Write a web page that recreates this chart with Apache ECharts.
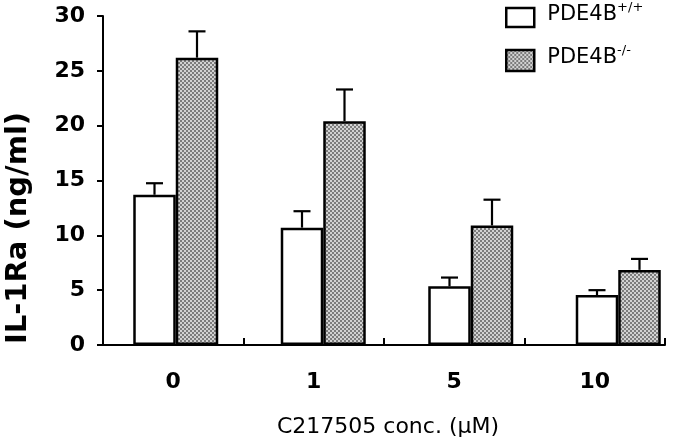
<!DOCTYPE html>
<html>
<head>
<meta charset="utf-8">
<script src="https://cdn.jsdelivr.net/npm/echarts@6/dist/echarts.min.js"></script>
<style>html,body{margin:0;padding:0;background:#fff}#c{width:700px;height:443px}</style>
</head>
<body>
<div id="c"></div>
<script>
var categories = ['0', '1', '5', '10'];
var seriesNames = ['PDE4B+/+', 'PDE4B-/-'];
var wtMean = [13.7, 10.7, 5.35, 4.55];
var wtErr = [1.05, 1.5, 0.8, 0.45];
var koMean = [26.2, 20.4, 10.9, 6.85];
var koErr = [2.4, 2.9, 2.35, 1.0];
var yTicks = [0, 5, 10, 15, 20, 25, 30];

var pc = document.createElement('canvas');
pc.width = 4; pc.height = 4;
var g = pc.getContext('2d');
g.fillStyle = '#d2d2d2'; g.fillRect(0, 0, 4, 4);
g.fillStyle = '#7c7c7c'; g.fillRect(0, 0, 2, 2); g.fillRect(2, 2, 2, 2);
var pattern = { image: pc, repeat: 'repeat' };

var FONT = 'DejaVu Sans';
var chart = echarts.init(document.getElementById('c'), null, { renderer: 'canvas' });

function errSeries(mean, err, offset) {
  return {
    type: 'custom', xAxisIndex: 1, yAxisIndex: 1, silent: true, z: 5,
    data: mean.map(function (m, i) { return [i, m, m + err[i]]; }),
    renderItem: function (params, api) {
      var b = api.coord([api.value(0), api.value(1)]);
      var t = api.coord([api.value(0), api.value(2)]);
      var x = b[0] + offset;
      return {
        type: 'group', children: [
          { type: 'line', shape: { x1: x, y1: b[1], x2: x, y2: t[1] }, style: { stroke: '#000', lineWidth: 2.2 } },
          { type: 'line', shape: { x1: x - 8.5, y1: t[1], x2: x + 8.5, y2: t[1] }, style: { stroke: '#000', lineWidth: 2.2 } }
        ]
      };
    }
  };
}

function legendFmt(name) {
  return '{a|PDE4B}{s|' + name.replace('PDE4B', '') + '}';
}
var legendText = {
  color: '#000',
  padding: [0, 0, 8, 8],
  rich: {
    a: { fontFamily: FONT, fontSize: 21, color: '#000', lineHeight: 24, verticalAlign: 'bottom' },
    s: { fontFamily: FONT, fontSize: 13, color: '#000', lineHeight: 14, verticalAlign: 'top' }
  }
};

chart.setOption({
  animation: false,
  backgroundColor: '#fff',
  legend: [
    { data: [seriesNames[0]], left: 505, top: 1.5, padding: 0, itemWidth: 28, itemHeight: 19, icon: 'rect',
      itemStyle: { borderColor: '#000', borderWidth: 2.5 }, formatter: legendFmt, textStyle: legendText },
    { data: [seriesNames[1]], left: 505, top: 44.5, padding: 0, itemWidth: 28, itemHeight: 21, icon: 'rect',
      itemStyle: { borderColor: '#000', borderWidth: 2.5 }, formatter: legendFmt, textStyle: legendText }
  ],
  grid: [
    { left: 103, right: 35, top: 16, bottom: 98 },
    { left: 102, right: 8, top: 16, bottom: 98 }
  ],
  xAxis: [
    {
      type: 'category', gridIndex: 0, data: categories, boundaryGap: true,
      axisLine: { lineStyle: { color: '#000', width: 2 } },
      axisTick: { show: true, interval: 0, inside: true, length: 7, lineStyle: { color: '#000', width: 2 } },
      axisLabel: { color: '#000', fontFamily: FONT, fontWeight: 'bold', fontSize: 22, margin: 26 },
      name: 'C217505 conc. (\u03bcM)', nameLocation: 'middle', nameGap: 71,
      nameTextStyle: { color: '#000', fontFamily: FONT, fontSize: 22, padding: [0, 0, 0, 8] },
      z: 10
    },
    { type: 'category', gridIndex: 1, data: categories, show: false }
  ],
  yAxis: [
    {
      type: 'value', gridIndex: 0, min: 0, max: 30, interval: 5,
      axisLine: { show: true, lineStyle: { color: '#000', width: 2 } },
      axisTick: { show: true, length: 6, lineStyle: { color: '#000', width: 2 } },
      axisLabel: { color: '#000', fontFamily: FONT, fontWeight: 'bold', fontSize: 22, margin: 18,
        formatter: function (v) { return yTicks.indexOf(v) >= 0 ? String(v) : ''; } },
      splitLine: { show: false }
    },
    { type: 'value', gridIndex: 1, min: 0, max: 30, interval: 5, show: false, splitLine: { show: false } }
  ],
  graphic: [
    { type: 'text', x: 18, y: 228, rotation: Math.PI / 2,
      style: { text: 'IL-1Ra (ng/ml)', fill: '#000', font: 'bold 29px "DejaVu Sans"', textAlign: 'center', textVerticalAlign: 'middle' } }
  ],
  series: [
    { name: seriesNames[0], type: 'bar', xAxisIndex: 1, yAxisIndex: 1, data: wtMean, barWidth: 42.5, barGap: '0%',
      itemStyle: { color: '#fff', borderColor: '#000', borderWidth: 2.5 } },
    { name: seriesNames[1], type: 'bar', xAxisIndex: 1, yAxisIndex: 1, data: koMean, barWidth: 42.5, barGap: '0%',
      itemStyle: { color: pattern, borderColor: '#000', borderWidth: 2.5 } },
    errSeries(wtMean, wtErr, -21.25),
    errSeries(koMean, koErr, 21.25)
  ]
});
</script>
</body>
</html>
